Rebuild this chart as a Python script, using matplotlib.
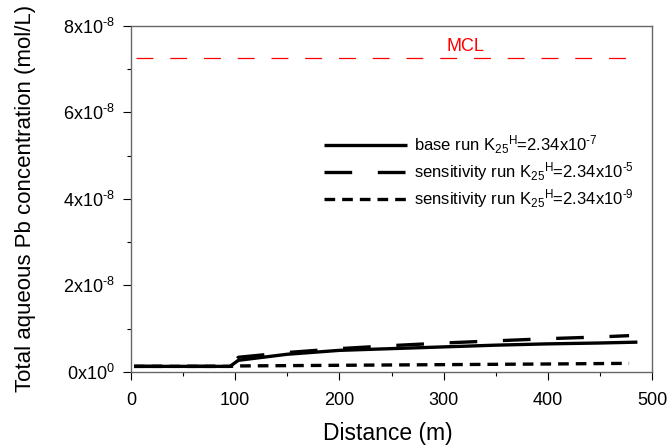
import matplotlib
matplotlib.use("Agg")
import matplotlib.pyplot as plt
from matplotlib.ticker import MultipleLocator, FuncFormatter

plt.rcParams['font.family'] = ['Liberation Sans', 'DejaVu Sans']
plt.rcParams['mathtext.fontset'] = 'custom'
plt.rcParams['mathtext.rm'] = 'Liberation Sans'
plt.rcParams['mathtext.it'] = 'Liberation Sans'
plt.rcParams['mathtext.default'] = 'regular'

# Data (distance in m, concentration in mol/L)
base_x = [3, 95, 103, 150, 200, 250, 300, 350, 400, 450, 486]
base_y = [1.3e-9, 1.3e-9, 2.7e-9, 4.1e-9, 5.0e-9, 5.4e-9, 5.8e-9, 6.2e-9, 6.5e-9, 6.7e-9, 6.9e-9]

sens5_x = [3, 95, 103, 150, 200, 250, 300, 350, 400, 450, 478]
sens5_y = [1.3e-9, 1.3e-9, 3.4e-9, 4.5e-9, 5.4e-9, 6.1e-9, 6.7e-9, 7.2e-9, 7.7e-9, 8.1e-9, 8.4e-9]

sens9_x = [3, 95, 103, 200, 300, 400, 478]
sens9_y = [1.3e-9, 1.3e-9, 1.4e-9, 1.55e-9, 1.7e-9, 1.85e-9, 2.0e-9]

mcl_x = [5, 486]
mcl_y = [7.25e-8, 7.25e-8]

HY = '\u2010'
labels = [r'base run K$_{25}{}^{H}$=2.34x10$^{' + HY + '7}$',
          r'sensitivity run K$_{25}{}^{H}$=2.34x10$^{' + HY + '5}$',
          r'sensitivity run K$_{25}{}^{H}$=2.34x10$^{' + HY + '9}$']

fig = plt.figure(figsize=(6.68, 4.46), dpi=100)
ax = fig.add_axes([131/668, 1 - 372/446, 521/668, 346.3/446])

lw = 2.4
ax.plot(base_x, base_y, color='black', lw=lw, label=labels[0], solid_capstyle='butt')
ax.plot(sens5_x, sens5_y, color='black', lw=lw, label=labels[1], linestyle=(0, (8.3, 7.7)), dash_capstyle='butt')
ax.plot(sens9_x, sens9_y, color='black', lw=lw, label=labels[2], linestyle=(0, (3.2, 2.1)), dash_capstyle='butt')
ax.plot(mcl_x, mcl_y, color='#ff0000', lw=0.9, linestyle=(0, (13.5, 13.5)))
ax.text(321, 7.51e-8, 'MCL', color='#ff0000', fontsize=13, ha='center', va='center')

ax.set_xlim(0, 500)
ax.set_ylim(0, 8e-8)
ax.xaxis.set_major_locator(MultipleLocator(100))
ax.xaxis.set_minor_locator(MultipleLocator(50))
ax.yaxis.set_major_locator(MultipleLocator(2e-8))
ax.yaxis.set_minor_locator(MultipleLocator(1e-8))

def yfmt(v, pos):
    if abs(v) < 1e-20:
        return r'0x10$^{0}$'
    m = round(v / 1e-8)
    return r'%dx10$^{' % m + HY + '8}$'
ax.yaxis.set_major_formatter(FuncFormatter(yfmt))

ax.tick_params(which='major', direction='out', length=5.5, width=0.8, labelsize=13, colors='black')
ax.tick_params(which='minor', direction='out', length=3.2, width=0.8)
ax.tick_params(axis='x', which='major', pad=9)
ax.tick_params(axis='y', which='major', pad=6)
ax.tick_params(top=False, right=False, which='both')
for s in ax.spines.values():
    s.set_color('#666666')
    s.set_linewidth(1.0)

ax.set_xlabel('Distance (m)', fontsize=16.5, va='top')
ax.xaxis.set_label_coords(0.493, -0.145)
ax.set_ylabel('Total aqueous Pb concentration (mol/L)', fontsize=16)
ax.yaxis.set_label_coords(-0.182, 0.5)

leg = ax.legend(loc='upper left', bbox_to_anchor=(0.370, 0.688), frameon=False, fontsize=12,
                handlelength=5.0, handletextpad=0.42, labelspacing=0.24,
                borderpad=0, borderaxespad=0)

fig.savefig('out.png', dpi=100)
